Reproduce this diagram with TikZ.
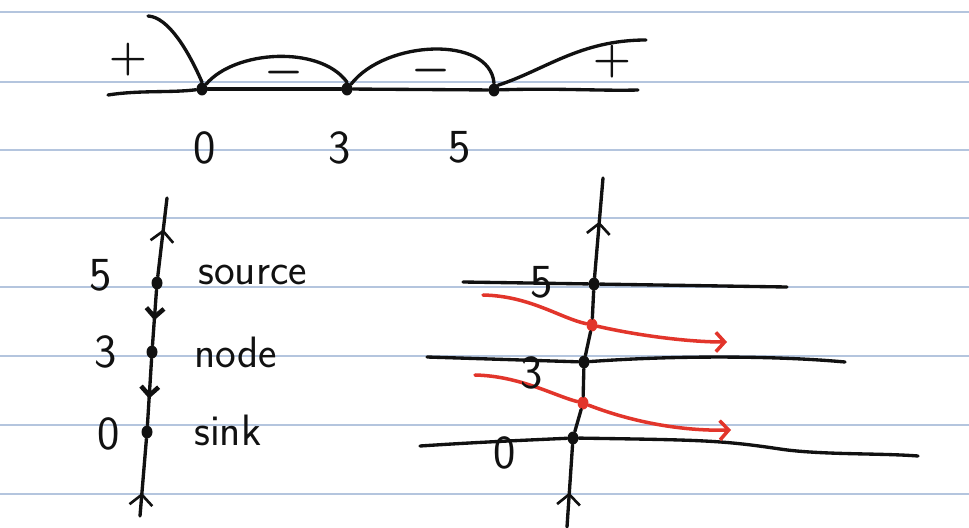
\documentclass[tikz,border=0pt]{standalone}
\usepackage{tikz}
\usepackage{xcolor}
\usetikzlibrary{arrows.meta,positioning,decorations.markings}
\definecolor{ink}{HTML}{111111}
\definecolor{redink}{HTML}{E2352B}
\definecolor{ruling}{HTML}{B4C5DE}
\tikzset{
  stroke/.style={
    draw=ink, line width=1.9pt, line cap=round, line join=round
  },
  redstroke/.style={
    draw=redink, line width=2pt, line cap=round,
    -{Straight Barb[length=5pt, width=11pt]}
  },
  dotpt/.style={
    ellipse, fill=#1, inner sep=0pt, minimum width=0.22cm, minimum height=0.26cm
  },
  dotpt/.default=ink,
  marklabel/.style={
    font=\fontsize{27}{30}\selectfont\sffamily, text=ink, inner sep=0pt
  },
  wordlabel/.style={
    font=\fontsize{25}{28}\selectfont\sffamily, text=ink,
    anchor=west, inner sep=0pt
  },
  signlabel/.style={
    font=\fontsize{32}{32}\selectfont\boldmath, text=ink, inner sep=0pt
  },
  uparrow/.style={
    postaction={decorate}, decoration={markings, mark=at position #1 with
      {\arrow[line width=1.5pt]{Straight Barb[length=6pt, width=13pt]}}}
  },
  downarrow/.style={
    postaction={decorate}, decoration={markings, mark=at position #1 with
      {\arrow[line width=2.6pt]{Straight Barb[length=5pt, width=10pt]}}}
  },
  ruleline/.style={draw=ruling, line width=0.9pt},
}
\usetikzlibrary{shapes.geometric}

\begin{document}
\begin{tikzpicture}[x=0.02cm, y=-0.02cm]
\useasboundingbox[fill=white] (0,0) rectangle (969,527);
\foreach \yy in {12,82,150,218,287,356,425,494}
  \draw[ruleline] (0,\yy) -- (969,\yy);

% sign chart
\node[dotpt] (z0) at (202,89) {};
\node[dotpt] (z3) at (347,89) {};
\node[dotpt] (z5) at (494,90) {};
\coordinate (nl) at (108,95);
\coordinate (nr) at (638,90);
\coordinate (arcl) at (148,16);
\coordinate (arcr) at (646,40);
\draw[stroke] (nl) .. controls (140,90) and (170,93) .. (z0);
\draw[stroke] (z0) -- (z3);
\draw[stroke] (z3) -- (z5);
\draw[stroke] (z5) .. controls (560,88) and (600,91) .. (nr);
\draw[stroke] (arcl) .. controls (168,17) and (188,50) .. (z0.north);
\draw[stroke] (z0.north east) .. controls (235,50) and (320,45) .. (z3.north);
\draw[stroke] (z3.north east) .. controls (385,40) and (490,35) .. (z5.north);
\draw[stroke] (z5.north east) .. controls (545,70) and (580,40) .. (arcr);
\node[signlabel] (p1) at (128,60) {$+$};
\node[signlabel] (m1) at (284,73) {$-$};
\node[signlabel] (m2) at (431,71) {$-$};
\node[signlabel] (p2) at (612,62) {$+$};
\node[marklabel] (t0) at (205,148) {0};
\node[marklabel] (t3) at (340,148) {3};
\node[marklabel] (t5) at (460,147) {5};

% phase line
\node[dotpt] (s5) at (157,283) {};
\node[dotpt] (s3) at (152,352) {};
\node[dotpt] (s0) at (147,432) {};
\coordinate (ltop) at (167,198);
\coordinate (lbot) at (140,516);
\draw[stroke, uparrow=0.3] (lbot) -- (s0);
\draw[stroke, downarrow=0.6] (s3) -- (s0);
\draw[stroke, downarrow=0.55] (s5) -- (s3);
\draw[stroke, uparrow=0.6] (s5) -- (ltop);
\node[marklabel] (l5) at (101,275) {5};
\node[marklabel] (l3) at (106,352) {3};
\node[marklabel] (l0) at (109,434) {0};
\node[wordlabel] (w5) at (198,275) {source};
\node[wordlabel] (w3) at (194,352) {node};
\node[wordlabel] (w0) at (194,430) {sink};

% solution curves
\node[dotpt] (r5) at (594,284) {};
\node[dotpt] (r3) at (584,362) {};
\node[dotpt] (r0) at (573,438) {};
\node[dotpt=redink] (q1) at (592,325) {};
\node[dotpt=redink] (q2) at (583,403) {};
\coordinate (rtop) at (603,178);
\coordinate (rbot) at (567,527);
\coordinate (h5l) at (463,282);
\coordinate (h5r) at (787,287);
\coordinate (h3l) at (427,357);
\coordinate (h3r) at (845,362);
\coordinate (h0l) at (420,446);
\coordinate (h0r) at (918,456);
\draw[stroke, uparrow=0.42] (rbot) -- (r0);
\draw[stroke] (r0) -- (q2);
\draw[stroke] (q2) -- (r3);
\draw[stroke] (r3) -- (q1);
\draw[stroke] (q1) -- (r5);
\draw[stroke, uparrow=0.56] (r5) -- (rtop);
\draw[stroke] (h5l) -- (r5);
\draw[stroke] (r5) -- (h5r);
\draw[stroke] (h3l) -- (r3);
\draw[stroke] (r3) .. controls (680,355) and (780,356) .. (h3r);
\draw[stroke] (h0l) .. controls (480,442) and (530,440) .. (r0);
\draw[stroke] (r0) .. controls (700,440) and (720,440) .. (780,449)
  .. controls (820,455) and (880,453) .. (h0r);
\coordinate (c1) at (483,295);
\coordinate (e1) at (727,342);
\coordinate (c2) at (475,375);
\coordinate (e2) at (731,430);
\draw[redstroke, -] (c1) .. controls (530,296) and (560,318) .. (q1);
\draw[redstroke] (q1) .. controls (640,336) and (690,342) .. (e1);
\draw[redstroke, -] (c2) .. controls (520,376) and (555,396) .. (q2);
\draw[redstroke] (q2) .. controls (640,425) and (690,431) .. (e2);
\node[marklabel] (k5) at (542,282) {5};
\node[marklabel] (k3) at (532,373) {3};
\node[marklabel] (k0) at (505,453) {0};
\end{tikzpicture}
\end{document}
